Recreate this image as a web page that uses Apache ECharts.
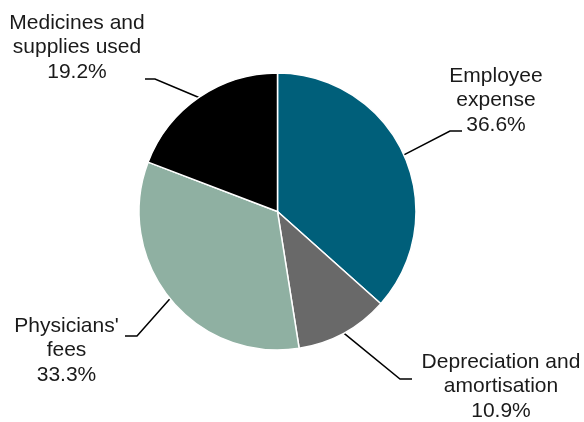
<!DOCTYPE html>
<html>
<head>
<meta charset="utf-8">
<script src="https://cdn.jsdelivr.net/npm/echarts@6/dist/echarts.min.js"></script>
<style>
html,body{margin:0;padding:0;background:#fff;}
#chart{width:584px;height:422px;}
</style>
</head>
<body>
<div id="chart"></div>
<script>
// Data
var categories = ['Employee\nexpense', 'Depreciation and\namortisation', "Physicians'\nfees", 'Medicines and\nsupplies used'];
var values = [36.6, 10.9, 33.3, 19.2];
var colors = ['#005F7A', '#696969', '#8FB0A2', '#000000'];

// Label layout (positions only)
var labelPos = [
  {x: 496, y: 100.5, turn: [450, 131], end: [462, 131]},
  {x: 501, y: 386.5, turn: [400, 379], end: [412, 379]},
  {x: 66.5, y: 350.5, turn: [137, 336], end: [125, 336]},
  {x: 77,  y: 47.5,  turn: [155, 79],  end: [145, 79]}
];

var chart = echarts.init(document.getElementById('chart'), null, {renderer: 'canvas'});
var data = categories.map(function (c, i) {
  return {name: c, value: values[i], itemStyle: {color: colors[i]}};
});

chart.setOption({
  animation: false,
  backgroundColor: '#ffffff',
  series: [{
    type: 'pie',
    center: [277.5, 211.5],
    radius: 138.5,
    startAngle: 90,
    clockwise: true,
    avoidLabelOverlap: false,
    data: data,
    itemStyle: {borderColor: '#ffffff', borderWidth: 1.5},
    label: {
      show: true,
      position: 'outside',
      formatter: function (p) { return p.name + '\n' + p.value.toFixed(1) + '%'; },
      fontFamily: 'Liberation Sans, Arial, sans-serif',
      fontSize: 21,
      lineHeight: 24.5,
      color: '#1a1a1a',
      align: 'center'
    },
    labelLine: {
      show: true,
      length: 20,
      length2: 10,
      lineStyle: {color: '#000000', width: 1.5}
    },
    labelLayout: function (params) {
      var lp = labelPos[params.dataIndex];
      var start = params.labelLinePoints ? params.labelLinePoints[0] : lp.turn;
      return {
        x: lp.x,
        y: lp.y,
        align: 'center',
        verticalAlign: 'middle',
        labelLinePoints: [start, lp.turn, lp.end]
      };
    },
    emphasis: {disabled: true}
  }]
});
</script>
</body>
</html>
